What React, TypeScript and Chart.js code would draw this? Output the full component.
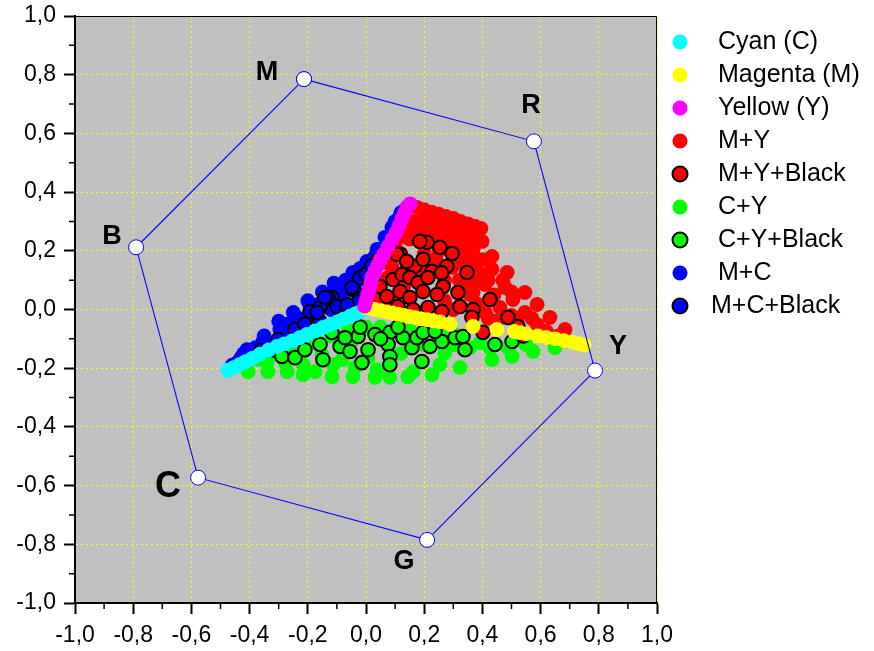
import React, { useEffect, useRef } from 'react';
import { Chart, registerables } from 'chart.js';

Chart.register(...registerables);

// ---------- data ----------
const seriesNames = ['Cyan (C)', 'Magenta (M)', 'Yellow (Y)', 'M+Y', 'M+Y+Black', 'C+Y', 'C+Y+Black', 'M+C', 'M+C+Black'];
const seriesColors = ['#00ffff', '#ffff00', '#ff00ff', '#ff0000', '#ff0000', '#00ff00', '#00ff00', '#0000ff', '#0000ff'];
const seriesOutlined = [false, false, false, false, true, false, true, false, true];

const cyanPts = [[-0.474,-0.207],[-0.455,-0.198],[-0.435,-0.188],[-0.415,-0.178],[-0.39,-0.166],[-0.364,-0.152],[-0.335,-0.138],[-0.306,-0.126],[-0.28,-0.117],[-0.254,-0.107],[-0.228,-0.096],[-0.203,-0.085],[-0.175,-0.073],[-0.148,-0.061],[-0.124,-0.052],[-0.1,-0.043],[-0.077,-0.033],[-0.055,-0.023],[-0.035,-0.014],[-0.017,-0.007],[0,0]];

const magentaPts = [[0.0,0.006],[0.015,0.003],[0.03,0.0],[0.05,-0.004],[0.07,-0.008],[0.09,-0.012],[0.11,-0.016],[0.13,-0.02],[0.15,-0.024],[0.17,-0.028],[0.19,-0.032],[0.21,-0.035],[0.23,-0.038],[0.255,-0.042],[0.289,-0.051],[0.368,-0.058],[0.45,-0.068],[0.51,-0.075],[0.529,-0.079],[0.55,-0.083],[0.59,-0.09],[0.62,-0.095],[0.65,-0.1],[0.68,-0.106],[0.71,-0.112],[0.73,-0.116],[0.75,-0.121]];

const yellowPts = [[-0.005,0.012],[0.0,0.03],[0.006,0.05],[0.012,0.07],[0.017,0.09],[0.02,0.109],[0.03,0.13],[0.041,0.15],[0.05,0.17],[0.062,0.19],[0.076,0.215],[0.09,0.24],[0.104,0.262],[0.114,0.285],[0.124,0.31],[0.133,0.33],[0.141,0.35],[0.152,0.36]];

const myPts = [[0.175,0.348],[0.2,0.34],[0.225,0.332],[0.25,0.325],[0.275,0.317],[0.3,0.31],[0.325,0.3],[0.35,0.292],[0.375,0.283],[0.395,0.276],
  [0.16,0.3],[0.185,0.3],[0.21,0.297],[0.24,0.288],[0.265,0.28],[0.295,0.272],[0.323,0.262],[0.35,0.245],[0.372,0.238],
  [0.399,0.232],[0.433,0.181],[0.375,0.143],[0.433,0.137],[0.485,0.126],[0.409,0.085],[0.478,0.075],[0.546,0.058],[0.368,0.058],[0.505,0.034],[0.46,0.007],[0.588,0.017],[0.546,-0.01],[0.632,-0.027],[0.588,-0.051],[0.684,-0.068],[0.62,-0.075],[0.52,-0.045],[0.42,-0.03],
  [0.14,0.307],[0.127,0.249],[0.089,0.147],[0.076,0.109],[0.254,0.256],[0.323,0.205],[0.368,0.205],[0.357,0.051],[0.296,0.143],[0.048,0.027],[0.03,0.061],[0.1,0.22],[0.07,0.16],[0.05,0.09],[0.18,0.26],[0.22,0.25],[0.3,0.24],[0.34,0.17],[0.4,0.17],[0.32,0.1],[0.4,0.12],[0.44,0.05],[0.38,0.02],[0.25,0.2],[0.2,0.19],[0.15,0.24],[0.12,0.19],[0.02,0.03],[0.08,0.03],[0.3,0.0],[0.45,-0.04],[0.296,0.188],[0.375,0.1],
  [0.09,0.19],[0.11,0.26],[0.16,0.27],[0.2,0.28],[0.27,0.23],[0.33,0.23],[0.24,0.17],[0.31,0.16],[0.36,0.17],[0.42,0.1],[0.47,0.1],[0.5,0.06],[0.35,0.08],[0.27,0.1],[0.19,0.13],[0.06,0.05],[0.13,0.08],[0.27,0.03],[0.41,-0.01],[0.5,-0.02],[0.57,-0.03],[0.6,-0.07],[0.66,-0.09]];

const myBlackPts = [[0.21,0.229],[0.254,0.212],[0.296,0.191],[0.117,0.188],[0.141,0.16],[0.168,0.147],[0.196,0.171],[0.227,0.13],[0.278,0.147],[0.347,0.126],[0.093,0.102],[0.124,0.119],[0.151,0.109],[0.179,0.092],[0.213,0.109],[0.265,0.078],[0.316,0.058],[0.117,0.061],[0.151,0.041],[0.196,0.061],[0.244,0.051],[0.11,0.01],[0.162,0.0],[0.213,0.007],[0.261,-0.007],[0.323,0.01],[0.368,0.0],[0.048,0.078],[0.072,0.044],[0.426,0.034],[0.488,-0.027],[0.522,-0.058],[0.402,-0.078],[0.364,-0.027],[0.54,-0.09],[0.185,0.232],[0.26,0.125],[0.106,0.188],[0.14,0.164]];

const cyPts = [[-0.405,-0.212],[-0.337,-0.212],[-0.34,-0.181],[-0.271,-0.212],[-0.278,-0.181],[-0.216,-0.222],[-0.216,-0.188],[-0.175,-0.212],[-0.117,-0.229],[-0.113,-0.188],[-0.045,-0.229],[-0.038,-0.198],[0.031,-0.232],[0.038,-0.205],[0.007,-0.164],[-0.082,-0.171],[-0.151,-0.154],[-0.22,-0.147],[0.082,-0.232],[0.144,-0.229],[0.162,-0.212],[0.227,-0.222],[0.254,-0.188],[0.323,-0.198],[0.271,-0.147],[0.357,-0.13],[0.433,-0.171],[0.426,-0.13],[0.502,-0.16],[0.574,-0.143],[0.649,-0.13],[0.392,-0.113],[0.488,-0.13],
  [-0.32,-0.154],[-0.26,-0.14],[-0.17,-0.11],[-0.12,-0.09],[-0.06,-0.07],[0.0,-0.06],[0.05,-0.06],[0.1,-0.065],[0.15,-0.07],[0.2,-0.07],[0.25,-0.075],[0.3,-0.08],[-0.05,-0.11],[0.12,-0.15],[0.2,-0.12],[0.3,-0.12],[0.55,-0.12],[-0.37,-0.17],[-0.31,-0.135]];

const cyBlackPts = [[-0.289,-0.16],[-0.244,-0.164],[-0.21,-0.137],[-0.158,-0.119],[-0.148,-0.171],[-0.089,-0.126],[-0.055,-0.143],[-0.027,-0.092],[-0.014,-0.181],[0.007,-0.137],[0.031,-0.085],[-0.072,-0.096],[-0.117,-0.078],[0.082,-0.078],[0.076,-0.119],[0.082,-0.16],[0.082,-0.188],[0.127,-0.096],[0.158,-0.13],[0.192,-0.177],[0.175,-0.096],[0.22,-0.126],[0.261,-0.109],[0.306,-0.096],[0.333,-0.092],[0.34,-0.137],[0.443,-0.119],[0.502,-0.109],[0.196,-0.078],[0.237,-0.075],[0.05,-0.1],[-0.02,-0.06],[0.11,-0.06]];

const mcPts = [[-0.46,-0.19],[-0.443,-0.181],[-0.409,-0.137],[-0.388,-0.16],[-0.354,-0.109],[-0.32,-0.126],[-0.296,-0.068],[-0.261,-0.078],[-0.237,-0.027],[-0.216,-0.044],[-0.192,0.01],[-0.134,0.044],[-0.089,0.078],[-0.045,0.126],[0.003,0.164],[0.038,0.205],[0.065,0.246],[0.089,0.28],[0.117,0.317],[0.135,0.34],[-0.089,0.034],[-0.065,0.068],[-0.021,0.102],[0.003,0.126],[0.024,0.147],[-0.16,0.02],[-0.11,0.06],[-0.38,-0.13],[-0.43,-0.165],[-0.27,-0.05],[-0.18,-0.02],[-0.04,0.08],[0.05,0.18],[0.08,0.22],[-0.12,0.0],
  [-0.42,-0.15],[-0.35,-0.09],[-0.3,-0.04],[-0.25,-0.01],[-0.2,0.03],[-0.15,0.06],[-0.07,0.1],[-0.02,0.14],[0.03,0.18],[0.06,0.21],[0.1,0.3],[0.12,0.33],[-0.11,0.09],[-0.02,0.05]];

const mcBlackPts = [[-0.296,-0.109],[-0.237,-0.078],[-0.182,-0.017],[-0.117,0.041],[-0.158,-0.041],[-0.045,0.068],[-0.021,0.109],[-0.1,0.01],[-0.065,0.0],[-0.027,0.027],[-0.131,0.041],[-0.065,0.017],[-0.048,0.075],[0.038,0.164],[-0.192,-0.007],[-0.158,0.007],[-0.141,0.041],[-0.168,-0.01],[-0.244,-0.068],[-0.302,-0.102],[-0.32,-0.137],[-0.36,-0.14],[-0.21,-0.05],[0.0,0.12],[0.02,0.15]];

const seriesData = [cyanPts, magentaPts, yellowPts, myPts, myBlackPts, cyPts, cyBlackPts, mcPts, mcBlackPts];
// draw layering (lower = drawn on top)
const seriesOrder = [3, 2, 1, 7, 4, 8, 5, 9, 6];

const hexLabels = ['M', 'R', 'Y', 'G', 'C', 'B'];
const hexX = [-0.213, 0.577, 0.787, 0.21, -0.577, -0.79];
const hexY = [0.785, 0.573, -0.208, -0.785, -0.573, 0.212];

const axisMin = -1;
const axisMax = 1;

// ---------- helpers ----------
const FONT = '"Liberation Sans", Arial, sans-serif';
const isMajor = (v: number) => Math.abs(Math.round(v * 10)) % 2 === 0;
const fmt = (v: number) => {
  const r = Math.round(v * 10) / 10;
  return (Math.abs(r) < 1e-9 ? 0 : r).toFixed(1).replace('.', ',');
};

const bgPlugin = {
  id: 'bgPlugin',
  beforeDraw(chart: any) {
    const { ctx, chartArea: a } = chart;
    ctx.save();
    ctx.fillStyle = '#fff';
    ctx.fillRect(0, 0, chart.width, chart.height);
    ctx.fillStyle = '#c0c0c0';
    ctx.fillRect(a.left, a.top, a.right - a.left, a.bottom - a.top);
    ctx.restore();
  },
};

const decoPlugin = {
  id: 'decoPlugin',
  afterDraw(chart: any) {
    const { ctx, chartArea: a, scales } = chart;
    const xs = scales.x, ys = scales.y;
    ctx.save();
    // frame top / right
    ctx.strokeStyle = '#000';
    ctx.lineWidth = 1;
    ctx.beginPath();
    ctx.moveTo(a.left, a.top + 0.5);
    ctx.lineTo(a.right - 0.5, a.top + 0.5);
    ctx.lineTo(a.right - 0.5, a.bottom);
    ctx.stroke();
    // minor ticks
    ctx.lineWidth = 1.5;
    ctx.beginPath();
    for (let i = -9; i <= 9; i += 2) {
      const v = i / 10;
      const px = xs.getPixelForValue(v);
      ctx.moveTo(px, a.bottom);
      ctx.lineTo(px, a.bottom + 6);
      const py = ys.getPixelForValue(v);
      ctx.moveTo(a.left, py);
      ctx.lineTo(a.left - 6, py);
    }
    ctx.stroke();

    // hexagon vertex labels
    const offs = [[-37, -7], [-3, -36], [23, -24], [-23, 22], [-30, 9], [-24, -11]];
    ctx.fillStyle = '#000';
    ctx.textAlign = 'center';
    ctx.textBaseline = 'middle';
    hexLabels.forEach((t, i) => {
      const px = xs.getPixelForValue(hexX[i]) + offs[i][0];
      const py = ys.getPixelForValue(hexY[i]) + offs[i][1];
      ctx.font = `bold ${t === 'C' ? 36 : 27}px ${FONT}`;
      ctx.fillText(t, px, py);
    });

    // legend
    ctx.textAlign = 'left';
    ctx.font = `25px ${FONT}`;
    seriesNames.forEach((name, i) => {
      const cy = a.top + 26 + i * 33;
      const cx = a.right + 23;
      ctx.beginPath();
      ctx.arc(cx, cy, 7.5, 0, Math.PI * 2);
      ctx.fillStyle = seriesColors[i];
      ctx.fill();
      if (seriesOutlined[i]) {
        ctx.lineWidth = 2;
        ctx.strokeStyle = '#000';
        ctx.stroke();
      }
      ctx.fillStyle = '#000';
      ctx.fillText(name, a.right + (i === 8 ? 54 : 61), cy);
    });
    ctx.restore();
  },
};

export default function App() {
  const ref = useRef<HTMLCanvasElement>(null);

  useEffect(() => {
    const canvas = ref.current;
    if (!canvas) return;

    const datasets: any[] = seriesData.map((pts, i) => ({
      label: seriesNames[i],
      data: pts.map(([x, y]) => ({ x, y })),
      backgroundColor: seriesColors[i],
      borderColor: seriesOutlined[i] ? '#000' : seriesColors[i],
      borderWidth: seriesOutlined[i] ? 2 : 0,
      pointRadius: seriesOutlined[i] ? 6.8 : 7.4,
      showLine: false,
      order: seriesOrder[i],
    }));

    const hexPts = hexX.map((x, i) => ({ x, y: hexY[i] }));
    datasets.push({
      label: 'hexagon',
      data: [...hexPts, hexPts[0]],
      showLine: true,
      fill: false,
      borderColor: '#0000ff',
      borderWidth: 1.1,
      backgroundColor: '#ffffff',
      pointBackgroundColor: '#ffffff',
      pointBorderColor: '#0000ff',
      pointBorderWidth: 1,
      pointRadius: 7.5,
      order: 0,
    });

    const axisCommon = (which: 'x' | 'y') => ({
      type: 'linear' as const,
      min: axisMin,
      max: axisMax,
      ticks: {
        stepSize: 0.1,
        autoSkip: false,
        maxRotation: 0,
        padding: 8,
        color: '#000',
        font: { family: FONT, size: 23 },
        callback: (v: any) => (isMajor(Number(v)) ? fmt(Number(v)) : ''),
      },
      grid: {
        color: (c: any) => (c.tick && isMajor(c.tick.value) ? '#ffff00' : 'rgba(0,0,0,0)'),
        lineWidth: 1,
        tickLength: 11,
        tickWidth: 2,
        tickColor: (c: any) => (c.tick && isMajor(c.tick.value) ? '#000' : 'rgba(0,0,0,0)'),
      },
      border: { display: true, color: '#000', width: 2, dash: [2, 3] },
      afterFit: (s: any) => {
        if (which === 'x') {
          s.height = 48;
        } else {
          s.width = 75;
          s.paddingTop = 16;
          s.paddingBottom = 0;
        }
      },
    });

    const chart = new Chart(canvas, {
      type: 'scatter',
      data: { datasets },
      options: {
        responsive: false,
        animation: false,
        layout: { padding: { left: 0, right: 217, top: 16, bottom: 0 } },
        plugins: { legend: { display: false }, tooltip: { enabled: false } },
        scales: { x: axisCommon('x'), y: axisCommon('y') },
      } as any,
      plugins: [bgPlugin, decoPlugin],
    });
    return () => chart.destroy();
  }, []);

  return (
    <div style={{ position: 'absolute', left: 0, top: 0, width: 874, height: 651, background: '#fff' }}>
      <canvas ref={ref} width={874} height={651} style={{ display: 'block', width: 874, height: 651 }} />
    </div>
  );
}
